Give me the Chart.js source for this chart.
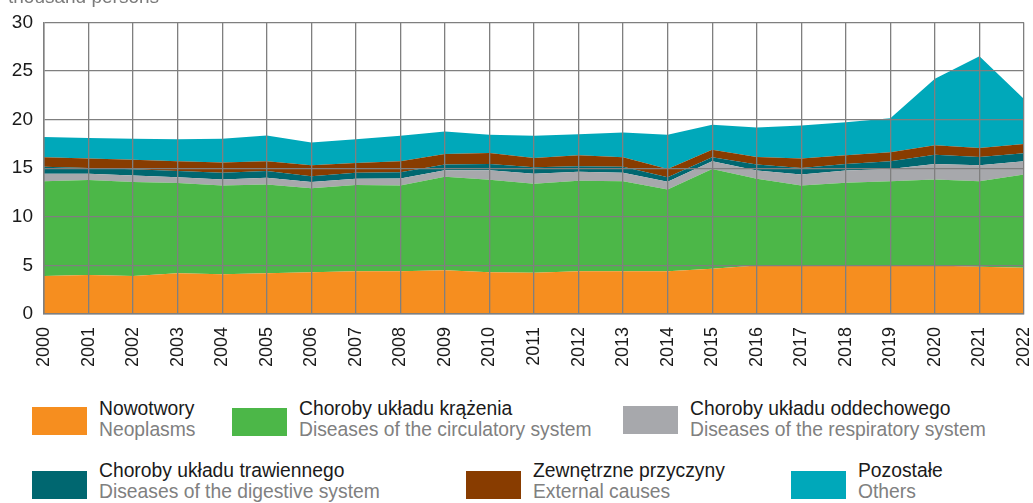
<html>
<head>
<script src="https://cdn.jsdelivr.net/npm/chart.js@4.4.1/dist/chart.umd.min.js"></script>
<style>
body { margin: 0; background: #fff; font-family: "Liberation Sans", Arial, sans-serif; }
.page { position: relative; width: 1033px; height: 503px; overflow: hidden; }
.unit { position: absolute; left: 8px; top: -14px; font-size: 19px; line-height: 21px; color: #7a7a7a; }
.box { position: absolute; left: 0; top: 0; width: 1033px; height: 380px; }
.item { position: absolute; font-size: 19.3px; line-height: 21px; white-space: nowrap; }
.item .sw { position: absolute; left: 0; width: 55px; height: 28px; }
.item .pl { position: absolute; left: 67px; top: 0; color: #1a1a1a; }
.item .en { position: absolute; left: 67px; top: 21px; color: #808080; }
</style>
</head>
<body>
<div class="page">
	<div class="box"><canvas id="myChart"></canvas></div>
	<div class="unit">thousand persons</div>
	<div id="legendHolder"></div>
</div>
<script>
	var years = ['2000','2001','2002','2003','2004','2005','2006','2007','2008','2009','2010',
		'2011','2012','2013','2014','2015','2016','2017','2018','2019','2020','2021','2022'];

	var namesPl = ['Nowotwory','Choroby układu krążenia','Choroby układu oddechowego',
		'Choroby układu trawiennego','Zewnętrzne przyczyny','Pozostałe'];
	var namesEn = ['Neoplasms','Diseases of the circulatory system','Diseases of the respiratory system',
		'Diseases of the digestive system','External causes','Others'];

	var neoplasms   = [3.9, 4.0, 3.9, 4.2, 4.1, 4.2, 4.3, 4.4, 4.4, 4.5, 4.3, 4.25, 4.4, 4.4, 4.4, 4.65, 5.0, 5.0, 5.0, 5.0, 5.0, 4.85, 4.75];
	var circulatory = [9.77, 9.78, 9.67, 9.27, 9.13, 9.13, 8.63, 8.87, 8.83, 9.61, 9.51, 9.15, 9.31, 9.27, 8.42, 10.28, 8.91, 8.23, 8.5, 8.67, 8.84, 8.82, 9.6];
	var respiratory = [0.75, 0.64, 0.68, 0.61, 0.61, 0.68, 0.64, 0.64, 0.72, 0.69, 0.99, 1.02, 0.92, 0.85, 0.78, 0.78, 0.85, 1.12, 1.26, 1.26, 1.6, 1.63, 1.36];
	var digestive   = [0.72, 0.61, 0.65, 0.62, 0.68, 0.69, 0.61, 0.61, 0.64, 0.57, 0.64, 0.68, 0.57, 0.62, 0.48, 0.41, 0.61, 0.68, 0.68, 0.78, 0.95, 0.86, 0.82];
	var external    = [0.98, 0.96, 0.98, 1.01, 1.06, 1.01, 1.12, 1.02, 1.12, 1.09, 1.12, 0.95, 1.13, 0.98, 0.85, 0.78, 0.79, 0.96, 0.89, 0.92, 0.96, 0.91, 0.95];
	var others      = [2.08, 2.11, 2.15, 2.28, 2.45, 2.66, 2.35, 2.45, 2.62, 2.32, 1.88, 2.28, 2.17, 2.55, 3.51, 2.56, 3.02, 3.4, 3.4, 3.51, 6.85, 9.46, 4.63];

	var yTicks = [0, 5, 10, 15, 20, 25, 30];

	var series = [neoplasms, circulatory, respiratory, digestive, external, others];
	var colors = ['#f68e1f','#4cb748','#a7a8ac','#006770','#883c00','#00a8ba'];

	// legend, two rows of three
	var legendPos = [[32,398,9],[232,398,10],[623,398,8],[32,460,11],[466,460,11],[791,460,11]];
	var html = '';
	for (var i = 0; i < namesPl.length; i++) {
		var p = legendPos[i];
		html += '<div class="item" style="left:' + p[0] + 'px;top:' + p[1] + 'px">' +
			'<div class="sw" style="top:' + p[2] + 'px;background:' + colors[i] + '"></div>' +
			'<div class="pl">' + namesPl[i] + '</div>' +
			'<div class="en">' + namesEn[i] + '</div></div>';
	}
	document.getElementById('legendHolder').innerHTML = html;

	var datasets = [];
	for (var i = 0; i < series.length; i++) {
		datasets.push({
			label: namesPl[i],
			data: series[i],
			backgroundColor: colors[i],
			borderWidth: 0,
			pointRadius: 0,
			tension: 0,
			fill: i === 0 ? 'origin' : '-1'
		});
	}

	var gridColor = '#7f7f7f';
	var ctx = document.getElementById("myChart").getContext('2d');
	var myChart = new Chart(ctx, {
		type: 'line',
		data: { labels: years, datasets: datasets },
		options: {
			responsive: true,
			maintainAspectRatio: false,
			animation: false,
			layout: { padding: { top: 20, right: 9, left: 0, bottom: 0 } },
			plugins: {
				legend: { display: false },
				tooltip: { enabled: false }
			},
			scales: {
				x: {
					offset: false,
					grid: { color: gridColor, lineWidth: 1.3, drawTicks: false, z: 1 },
					border: { color: gridColor, width: 1.5, z: 2 },
					ticks: {
						minRotation: 90, maxRotation: 90, padding: 13,
						color: '#1a1a1a',
						font: { family: '"Liberation Sans", Arial', size: 18 }
					},
					afterFit: function(s) {
						s.height = 66;
						s.paddingLeft = 0;
						s.paddingRight = 0;
					}
				},
				y: {
					stacked: true,
					min: 0, max: 30,
					afterBuildTicks: function(s) { s.ticks = yTicks.map(function(v) { return { value: v }; }); },
					grid: { color: gridColor, lineWidth: 1.3, drawTicks: false, z: 1 },
					border: { color: gridColor, width: 1.5, z: 2 },
					ticks: {
						padding: 11,
						color: '#1a1a1a',
						font: { family: '"Liberation Sans", Arial', size: 19 }
					},
					afterFit: function(s) { s.width = 44; }
				}
			}
		}
	});
</script>
</body>
</html>
